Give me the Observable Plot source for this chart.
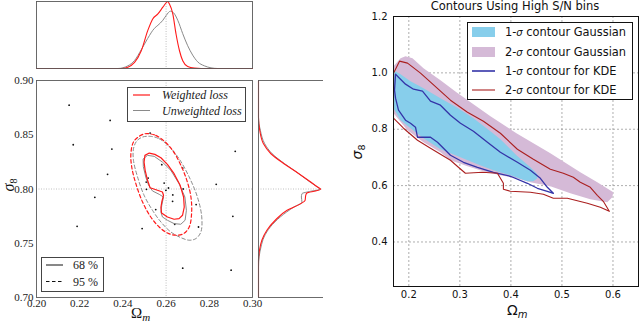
<!DOCTYPE html>
<html>
<head>
<meta charset="utf-8">
<script src="https://cdn.jsdelivr.net/npm/d3@7"></script>
<script src="https://cdn.jsdelivr.net/npm/@observablehq/plot@0.6"></script>
<style>
html,body{margin:0;padding:0;background:#fff;}
#root{position:relative;width:640px;height:323px;overflow:hidden;background:#fff;}
.abs{position:absolute;}
.abs svg{overflow:visible;background:transparent;}
.lbl{position:absolute;white-space:nowrap;line-height:1;}
</style>
</head>
<body>
<div id="root"></div>
<script>
// ================= LEFT FIGURE DATA =================
const leftXTicks = [0.20, 0.22, 0.24, 0.26, 0.28, 0.30];
const leftYTicks = [0.70, 0.75, 0.80, 0.85, 0.90];
const fiducialOmega = 0.26;
const fiducialSigma8 = 0.80;

const scatterOmega  = [0.2151,0.2170,0.2341,0.2349,0.2329,0.2270,0.2188,0.2526,0.2517,0.2508,0.2509,0.2580,0.2591,0.2611,0.2599,0.2631,0.2630,0.2552,0.2640,0.2677,0.2679,0.2489,0.2750,0.2832,0.2920,0.2909,0.2677,0.2901,0.2739];
const scatterSigma8 = [0.8773,0.8408,0.8632,0.8368,0.8135,0.7923,0.7656,0.8515,0.8101,0.8064,0.7997,0.8224,0.8055,0.8009,0.7988,0.7945,0.7886,0.7810,0.7675,0.8193,0.8000,0.7635,0.7650,0.8043,0.8347,0.7748,0.7270,0.7252,0.7856];

// contours [Omega_m, sigma_8]
const weighted68 = [[0.2502,0.8310],[0.2522,0.8331],[0.2548,0.8319],[0.2576,0.8288],[0.2606,0.8227],[0.2637,0.8141],[0.2665,0.8034],[0.2681,0.7926],[0.2684,0.7834],[0.2676,0.7758],[0.2660,0.7727],[0.2637,0.7721],[0.2606,0.7742],[0.2579,0.7779],[0.2576,0.7828],[0.2580,0.7880],[0.2588,0.7942],[0.2583,0.7972],[0.2560,0.7988],[0.2526,0.8012],[0.2514,0.8080],[0.2503,0.8172],[0.2498,0.8248]];
const unweighted68 = [[0.2495,0.8279],[0.2514,0.8310],[0.2545,0.8301],[0.2583,0.8248],[0.2622,0.8172],[0.2660,0.8049],[0.2687,0.7926],[0.2694,0.7804],[0.2688,0.7712],[0.2668,0.7675],[0.2637,0.7681],[0.2606,0.7712],[0.2583,0.7742],[0.2576,0.7788],[0.2580,0.7850],[0.2588,0.7926],[0.2568,0.7951],[0.2537,0.7982],[0.2519,0.8034],[0.2506,0.8110],[0.2495,0.8202]];
const weighted95 = [[0.2522,0.8509],[0.2552,0.8494],[0.2591,0.8442],[0.2630,0.8356],[0.2665,0.8233],[0.2696,0.8080],[0.2715,0.7926],[0.2718,0.7773],[0.2707,0.7650],[0.2681,0.7589],[0.2645,0.7574],[0.2606,0.7595],[0.2568,0.7650],[0.2529,0.7742],[0.2491,0.7880],[0.2460,0.8049],[0.2441,0.8202],[0.2437,0.8325],[0.2449,0.8433],[0.2475,0.8485],[0.2502,0.8509]];
const unweighted95 = [[0.2529,0.8485],[0.2568,0.8463],[0.2614,0.8393],[0.2660,0.8279],[0.2707,0.8110],[0.2745,0.7926],[0.2765,0.7742],[0.2761,0.7604],[0.2738,0.7543],[0.2707,0.7528],[0.2668,0.7552],[0.2622,0.7604],[0.2576,0.7696],[0.2537,0.7804],[0.2498,0.7942],[0.2468,0.8110],[0.2449,0.8264],[0.2449,0.8371],[0.2464,0.8442],[0.2491,0.8479]];

// marginal of Omega_m (top)
const topOmegaW = [0.20,0.2392,0.2423,0.2454,0.2485,0.2515,0.2538,0.2562,0.2585,0.2603,0.2608,0.2615,0.2631,0.2646,0.2662,0.2677,0.2700,0.2731,0.2762,0.30];
const topWeighted = [0,0,0.02,0.09,0.265,0.565,0.74,0.815,0.915,0.99,1.0,0.965,0.815,0.515,0.265,0.115,0.03,0.005,0,0];
const topOmegaU = [0.20,0.2377,0.2423,0.2454,0.2485,0.2515,0.2546,0.2562,0.2585,0.2600,0.2620,0.2635,0.2654,0.2677,0.2700,0.2723,0.2746,0.2777,0.2808,0.2838,0.30];
const topUnweighted = [0,0,0.04,0.12,0.28,0.45,0.60,0.645,0.72,0.79,0.855,0.83,0.72,0.52,0.34,0.20,0.10,0.04,0.01,0,0];

// marginal of sigma_8 (right)
const rightSigmaW = [0.70,0.7344,0.7436,0.7528,0.7620,0.7712,0.7804,0.7865,0.7896,0.7942,0.7963,0.7982,0.7997,0.8018,0.8064,0.8141,0.8233,0.8325,0.8417,0.8540,0.8660,0.90];
const rightWeighted = [0,0,0.016,0.054,0.135,0.27,0.46,0.68,0.75,0.76,0.78,0.92,1.0,0.95,0.84,0.65,0.41,0.2,0.08,0.02,0,0];
const rightSigmaU = [0.70,0.7282,0.7374,0.7466,0.7558,0.7650,0.7742,0.7834,0.7880,0.7926,0.7957,0.7979,0.7997,0.8018,0.8064,0.8141,0.8233,0.8325,0.8417,0.8540,0.8660,0.90];
const rightUnweighted = [0,0,0.01,0.04,0.09,0.19,0.35,0.57,0.70,0.69,0.70,0.84,0.99,0.95,0.83,0.65,0.42,0.22,0.10,0.03,0,0];

// ================= RIGHT FIGURE DATA =================
const rightXTicks = [0.2, 0.3, 0.4, 0.5, 0.6];
const rightYTicks = [0.4, 0.6, 0.8, 1.0, 1.2];
const gauss2sigma = [[0.17,1.0238],[0.1838,1.0522],[0.1935,1.0593],[0.2072,1.0522],[0.2288,1.0167],[0.2620,0.9741],[0.2933,0.9314],[0.3266,0.8888],[0.3599,0.8462],[0.4108,0.7858],[0.4773,0.7148],[0.5360,0.6473],[0.5693,0.6118],[0.6006,0.5763],[0.5986,0.5585],[0.5888,0.5407],[0.5556,0.5514],[0.5164,0.5727],[0.4773,0.5976],[0.4382,0.6118],[0.4108,0.6260],[0.3794,0.6366],[0.3462,0.6508],[0.3149,0.6686],[0.2816,0.6899],[0.2620,0.7183],[0.2288,0.7538],[0.1975,0.7965],[0.17,0.8569]];
const gauss1sigma = [[0.17,1.0096],[0.1838,0.9954],[0.2033,0.9705],[0.2288,0.9457],[0.2620,0.9101],[0.2933,0.8782],[0.3266,0.8391],[0.3599,0.7929],[0.3794,0.7645],[0.4108,0.7077],[0.4382,0.6650],[0.4519,0.6402],[0.4519,0.6260],[0.4440,0.6153],[0.4323,0.6153],[0.3990,0.6366],[0.3658,0.6544],[0.3344,0.6757],[0.3012,0.7006],[0.2816,0.7148],[0.2620,0.7290],[0.2288,0.7680],[0.2033,0.8036],[0.1838,0.8320],[0.17,0.8746]];
const kde1sigma = [[0.1740,0.9954],[0.1798,0.9847],[0.1935,0.9599],[0.2092,0.9421],[0.2268,0.9350],[0.2425,0.8995],[0.2620,0.8853],[0.2816,0.8497],[0.3012,0.8213],[0.3266,0.7929],[0.3540,0.7538],[0.3794,0.7183],[0.4127,0.6828],[0.4382,0.6544],[0.4577,0.6260],[0.4714,0.5940],[0.4832,0.5727],[0.4714,0.5798],[0.4519,0.5905],[0.4323,0.6082],[0.3990,0.6331],[0.3658,0.6473],[0.3344,0.6650],[0.3070,0.6828],[0.2816,0.7077],[0.2562,0.7538],[0.2425,0.7716],[0.2170,0.7716],[0.2131,0.8071],[0.2033,0.8213],[0.1935,0.8320],[0.1798,0.8675],[0.1740,0.9101],[0.1720,0.9386]];
const kde2sigma = [[0.17,0.9989],[0.1818,1.0416],[0.1975,1.0345],[0.2229,0.9989],[0.2425,0.9670],[0.2816,0.9030],[0.3149,0.8604],[0.3462,0.8284],[0.3794,0.7858],[0.4127,0.7290],[0.4440,0.6934],[0.4773,0.6579],[0.5027,0.6437],[0.5223,0.6295],[0.5360,0.6118],[0.5556,0.5940],[0.5693,0.5656],[0.5810,0.5442],[0.5928,0.5087],[0.5752,0.5229],[0.5497,0.5371],[0.5106,0.5549],[0.4832,0.5549],[0.4636,0.5691],[0.4382,0.5762],[0.3990,0.5798],[0.3853,0.5869],[0.3853,0.6082],[0.3736,0.6437],[0.3442,0.6473],[0.3109,0.6437],[0.2972,0.6650],[0.2816,0.6899],[0.2425,0.7325],[0.2170,0.7609],[0.1896,0.8036],[0.17,0.8391]];

// ================= DRAWING =================
const root = document.getElementById("root");
function place(el, left, top) {
  const d = document.createElement("div");
  d.className = "abs";
  d.style.left = left + "px";
  d.style.top = top + "px";
  d.appendChild(el);
  root.appendChild(d);
  return d;
}
function label(html, css) {
  const d = document.createElement("div");
  d.className = "lbl";
  d.innerHTML = html;
  Object.assign(d.style, css);
  root.appendChild(d);
  return d;
}
const XY = {x: d => d[0], y: d => d[1]};
const RED = "#ff1a1a", GREY = "#8a8a8a", FRAME = "#5a5a5a";
const dotted = {stroke: "#b0b0b0", strokeWidth: 0.8, strokeDasharray: "1,1.5"};
const serif = "'Liberation Serif', 'DejaVu Serif', serif";
const sans = "'DejaVu Sans', sans-serif";

// --- top marginal ---
const topPlot = Plot.plot({
  width: 256, height: 70,
  marginLeft: 36, marginRight: 4, marginTop: 1, marginBottom: 2,
  style: {background: "transparent"},
  x: {domain: [0.20, 0.30], axis: null},
  y: {domain: [0, 1], axis: null},
  marks: [
    Plot.ruleX([fiducialOmega], dotted),
    Plot.lineY(topUnweighted, {x: topOmegaU, stroke: GREY, strokeWidth: 1, curve: "monotone-x"}),
    Plot.lineY(topWeighted, {x: topOmegaW, stroke: RED, strokeWidth: 1.1, curve: "monotone-x"}),
    Plot.frame({stroke: FRAME, strokeWidth: 0.9})
  ]
});
place(topPlot, 0, 0);

// --- main left panel ---
const mainPlot = Plot.plot({
  width: 256, height: 253,
  marginLeft: 36, marginRight: 4, marginTop: 10, marginBottom: 26,
  style: {background: "transparent", fontFamily: serif, fontSize: "11px", color: "#222"},
  x: {domain: [0.20, 0.30], label: null},
  y: {domain: [0.70, 0.90], label: null},
  marks: [
    Plot.ruleX([fiducialOmega], dotted),
    Plot.ruleY([fiducialSigma8], dotted),
    Plot.dot(scatterOmega, {x: scatterOmega, y: scatterSigma8, r: 0.9, fill: "#111", stroke: "none"}),
    Plot.line(unweighted95, {...XY, curve: "catmull-rom-closed", stroke: GREY, strokeWidth: 1, strokeDasharray: "3.5,2.5"}),
    Plot.line(weighted95, {...XY, curve: "catmull-rom-closed", stroke: RED, strokeWidth: 1.2, strokeDasharray: "3.5,2.5"}),
    Plot.line(unweighted68, {...XY, curve: "linear-closed", stroke: GREY, strokeWidth: 1}),
    Plot.line(weighted68, {...XY, curve: "linear-closed", stroke: RED, strokeWidth: 1.2}),
    Plot.frame({stroke: FRAME, strokeWidth: 0.9}),
    Plot.axisX(leftXTicks, {tickSize: 0, tickPadding: 2, tickFormat: d3.format(".2f"), label: null}),
    Plot.axisY(leftYTicks, {tickSize: 0, tickPadding: 3, tickFormat: d3.format(".2f"), label: null})
  ]
});
place(mainPlot, 0, 70);

// --- right marginal ---
const sidePlot = Plot.plot({
  width: 66, height: 253,
  marginLeft: 2, marginRight: 0, marginTop: 10, marginBottom: 26,
  style: {background: "transparent"},
  x: {domain: [0, 1.03], axis: null},
  y: {domain: [0.70, 0.90], axis: null},
  marks: [
    Plot.ruleY([fiducialSigma8], dotted),
    Plot.lineX(rightUnweighted, {y: rightSigmaU, stroke: GREY, strokeWidth: 1, curve: "monotone-y"}),
    Plot.lineX(rightWeighted, {y: rightSigmaW, stroke: RED, strokeWidth: 1.1, curve: "monotone-y"}),
    Plot.frame({anchor: "left", stroke: FRAME, strokeWidth: 0.9}),
    Plot.frame({anchor: "top", stroke: FRAME, strokeWidth: 0.9}),
    Plot.frame({anchor: "bottom", stroke: FRAME, strokeWidth: 0.9})
  ]
});
place(sidePlot, 256, 70);

// left labels
label("Ω<sub style='font-style:italic;font-size:11px;vertical-align:-3px'>m</sub>",
  {left: "131px", top: "306px", fontFamily: serif, fontSize: "15px", color: "#111"});
label("<i>σ</i><sub style='font-size:10px;vertical-align:-3px'>8</sub>",
  {left: "10px", top: "185px", fontFamily: serif, fontSize: "16px", color: "#111",
   transform: "translate(-50%,-50%) rotate(-90deg)"});

// left legend (losses)
label(`<svg width="119" height="35" style="position:absolute;left:0;top:0">
  <rect x="0.5" y="0.5" width="118" height="34" fill="white" stroke="#444" stroke-width="1"/>
  <line x1="6" x2="23" y1="8" y2="8" stroke="${RED}" stroke-width="1.2"/>
  <line x1="6" x2="23" y1="23.5" y2="23.5" stroke="${GREY}" stroke-width="1"/>
  <text x="35" y="12" font-family="Liberation Serif" font-style="italic" font-size="12" fill="#222">Weighted loss</text>
  <text x="35" y="27.5" font-family="Liberation Serif" font-style="italic" font-size="12" fill="#222">Unweighted loss</text>
  </svg>`, {left: "127px", top: "87px", width: "119px", height: "35px"});

// left legend (levels)
label(`<svg width="63" height="35" style="position:absolute;left:0;top:0">
  <rect x="0.5" y="0.5" width="62" height="34" fill="white" stroke="#444" stroke-width="1"/>
  <line x1="5" x2="22" y1="8" y2="8" stroke="#111" stroke-width="1"/>
  <line x1="5" x2="22" y1="24.5" y2="24.5" stroke="#111" stroke-width="1" stroke-dasharray="3.5,2.5"/>
  <text x="32" y="12" font-family="Liberation Serif" font-size="12" fill="#222">68 %</text>
  <text x="32" y="28.5" font-family="Liberation Serif" font-size="12" fill="#222">95 %</text>
  </svg>`, {left: "41px", top: "257px", width: "63px", height: "35px"});

// --- right figure ---
const SKY = "#87ceeb", THISTLE = "#d5bad7", BLUE = "#3434a8", DARKRED = "#aa1f1f";
const rightPlot = Plot.plot({
  width: 320, height: 323,
  marginLeft: 73, marginRight: 2, marginTop: 16, marginBottom: 37,
  style: {background: "transparent", fontFamily: sans, fontSize: "10px", color: "#111"},
  x: {domain: [0.17, 0.65], label: null},
  y: {domain: [0.242, 1.2], label: null},
  marks: [
    Plot.gridX(rightXTicks, {stroke: "#999", strokeOpacity: 1, strokeWidth: 0.8, strokeDasharray: "2,2"}),
    Plot.gridY(rightYTicks, {stroke: "#999", strokeOpacity: 1, strokeWidth: 0.8, strokeDasharray: "2,2"}),
    Plot.line(gauss2sigma, {...XY, curve: "linear-closed", fill: THISTLE, stroke: "none", clip: true}),
    Plot.line(gauss1sigma, {...XY, curve: "linear-closed", fill: SKY, stroke: "none", clip: true}),
    Plot.line(kde1sigma, {...XY, curve: "linear-closed", stroke: BLUE, strokeWidth: 1.3, clip: true}),
    Plot.line(kde2sigma, {...XY, curve: "linear-closed", stroke: DARKRED, strokeWidth: 1.1, clip: true}),
    Plot.frame({stroke: "#111", strokeWidth: 1}),
    Plot.axisX(rightXTicks, {tickSize: 0, tickPadding: 4, tickFormat: d3.format(".1f"), label: null}),
    Plot.axisY(rightYTicks, {tickSize: 0, tickPadding: 6, tickFormat: d3.format(".1f"), label: null})
  ]
});
place(rightPlot, 320, 0);

label("Contours Using High S/N bins",
  {left: "515px", top: "1px", transform: "translateX(-50%)", fontFamily: sans, fontSize: "11.5px", color: "#111"});
label("Ω<sub style='font-style:italic;font-size:10px;vertical-align:-3px'>m</sub>",
  {left: "507px", top: "303px", fontFamily: sans, fontSize: "14px", color: "#111"});
label("<i>σ</i><sub style='font-size:9.5px;vertical-align:-3px'>8</sub>",
  {left: "358px", top: "152px", fontFamily: sans, fontSize: "14px", color: "#111",
   transform: "translate(-50%,-50%) rotate(-90deg)"});

// right legend
label(`<svg width="166" height="78" style="position:absolute;left:0;top:0">
  <rect x="0.5" y="0.5" width="165" height="77" fill="white" stroke="#111" stroke-width="1"/>
  <rect x="5" y="5" width="23" height="10" fill="${SKY}"/>
  <rect x="5" y="25" width="23" height="10" fill="${THISTLE}"/>
  <line x1="5" x2="28" y1="49" y2="49" stroke="${BLUE}" stroke-width="1.6"/>
  <line x1="5" x2="28" y1="68" y2="68" stroke="${DARKRED}" stroke-width="1.1"/>
  <g font-family="DejaVu Sans" font-size="11.4" fill="#111">
  <text x="38" y="14">1-<tspan font-style="italic" font-size="10">σ</tspan> contour Gaussian</text>
  <text x="38" y="34">2-<tspan font-style="italic" font-size="10">σ</tspan> contour Gaussian</text>
  <text x="38" y="53">1-<tspan font-style="italic" font-size="10">σ</tspan> contour for KDE</text>
  <text x="38" y="72">2-<tspan font-style="italic" font-size="10">σ</tspan> contour for KDE</text>
  </g>
  </svg>`, {left: "467px", top: "22px", width: "166px", height: "78px"});
</script>
</body>
</html>
